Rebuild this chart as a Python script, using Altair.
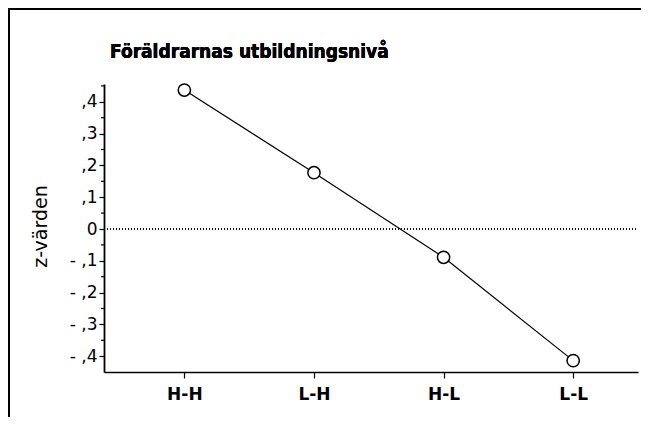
import altair as alt
import pandas as pd

title_text = "Föräldrarnas utbildningsnivå"
categories = ["H-H", "L-H", "H-L", "L-L"]
z_values = [0.437, 0.177, -0.089, -0.414]
y_major = [-0.4, -0.3, -0.2, -0.1, 0.0, 0.1, 0.2, 0.3, 0.4]
y_minor = [-0.35, -0.25, -0.15, -0.05, 0.05, 0.15, 0.25, 0.35, 0.45]

df = pd.DataFrame({"idx": list(range(len(categories))), "cat": categories, "z": z_values})
df_minor = pd.DataFrame({"z": y_minor})

W, H = 534, 288
PAD = {"left": 96, "top": 76, "right": 3, "bottom": 45}

cat_expr = "[" + ",".join("'" + c + "'" for c in categories) + "][round(datum.value)]"
ylab_expr = ("round(datum.value*10) == 0 ? '0' : "
             "(datum.value < 0 ? '- ,' + abs(round(datum.value*10)) : ',' + round(datum.value*10))")

y_scale = alt.Scale(domain=[-0.4497, 0.456], nice=False, zero=False)
x_scale = alt.Scale(domain=[-0.62, 3.5], nice=False, zero=False)

x_axis = alt.Axis(
    values=list(range(len(categories))),
    labelExpr=cat_expr,
    title=None,
    grid=False,
    domainColor="black",
    domainWidth=1.5,
    tickColor="black",
    tickSize=6,
    tickWidth=1.2,
    labelFont="DejaVu Sans",
    labelFontWeight="bold",
    labelFontSize=17,
    labelColor="black",
    labelPadding=8,
    labelOverlap=False,
)

y_axis = alt.Axis(
    values=y_major,
    labelExpr=ylab_expr,
    labelOverlap=False,
    labelBound=False,
    title="z-värden",
    titleFont="DejaVu Sans",
    titleFontWeight="normal",
    titleFontSize=19,
    titleColor="black",
    titleX=-64,
    titleY=142,
    titleAlign="center",
    titleBaseline="middle",
    titleAngle=270,
    grid=False,
    domainColor="black",
    domainWidth=1.8,
    tickColor="black",
    tickWidth=1.2,
    tickSize=5,
    labelFont="DejaVu Sans",
    labelFontSize=17,
    labelColor="black",
    labelPadding=2,
)

x_enc = alt.X("idx:Q", scale=x_scale, axis=x_axis)
y_enc = alt.Y("z:Q", scale=y_scale, axis=y_axis)

base = alt.Chart(df)

zero_line = base.mark_rule(color="black", strokeDash=[1, 2], strokeWidth=1).encode(
    y=alt.YDatum(datum=0, scale=y_scale, axis=y_axis), x=alt.value(0), x2=alt.value(W)
)

minor_ticks = alt.Chart(df_minor).mark_rule(color="black", strokeWidth=1.2).encode(
    y=y_enc, x=alt.value(-3), x2=alt.value(0)
)

line = base.mark_line(color="black", strokeWidth=1.2).encode(x=x_enc, y=y_enc)

points = base.mark_point(
    shape="circle", size=150, filled=True, fill="white", stroke="black",
    strokeWidth=1.5, opacity=1
).encode(x=x_enc, y=y_enc)

title_mark = base.mark_text(
    text=title_text, align="left", baseline="middle",
    font="DejaVu Sans Condensed", fontWeight="bold", fontSize=19, color="black"
).encode(x=alt.value(6), y=alt.value(-32))

frame_left = base.mark_rect(color="black", strokeWidth=0).encode(
    x=alt.value(-96), x2=alt.value(-94), y=alt.value(-76), y2=alt.value(H + 60)
)
frame_top = base.mark_rect(color="black", strokeWidth=0).encode(
    x=alt.value(-96), x2=alt.value(W + 3), y=alt.value(-76), y2=alt.value(-74)
)

chart = alt.layer(zero_line, minor_ticks, line, points, title_mark, frame_left, frame_top).properties(
    width=W,
    height=H,
    padding=PAD,
    autosize=alt.AutoSizeParams(type="none"),
).configure(background="white").configure_view(stroke="transparent", strokeWidth=0)

chart.save("out.html", embed_options={"renderer": "svg", "actions": False})
